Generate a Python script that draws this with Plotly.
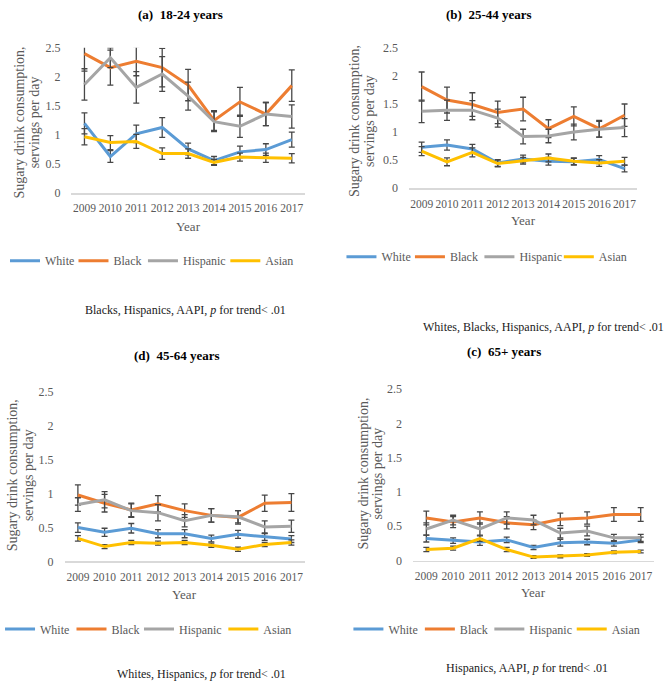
import plotly.graph_objects as go

W, H = 668, 688

years = ["2009", "2010", "2011", "2012", "2013", "2014", "2015", "2016", "2017"]
groups = ["White", "Black", "Hispanic", "Asian"]
colors = {"White": "#5B9BD5", "Black": "#ED7D31", "Hispanic": "#A5A5A5", "Asian": "#FFC000"}

# Panel (a) 18-24 years
a_white = [1.20, 0.63, 1.02, 1.13, 0.76, 0.56, 0.71, 0.75, 0.92]
a_black = [2.40, 2.16, 2.27, 2.16, 1.86, 1.25, 1.57, 1.36, 1.85]
a_hisp = [1.87, 2.33, 1.82, 2.05, 1.67, 1.23, 1.15, 1.36, 1.32]
a_asian = [0.97, 0.87, 0.89, 0.68, 0.68, 0.53, 0.62, 0.61, 0.60]
a_white_e = [0.18, 0.10, 0.15, 0.17, 0.10, 0.07, 0.10, 0.10, 0.13]
a_black_e = [0.30, 0.30, 0.25, 0.33, 0.27, 0.17, 0.25, 0.20, 0.27]
a_hisp_e = [0.27, 0.17, 0.27, 0.30, 0.24, 0.17, 0.19, 0.20, 0.20]
a_asian_e = [0.14, 0.12, 0.12, 0.10, 0.08, 0.05, 0.07, 0.08, 0.08]

# Panel (b) 25-44 years
b_white = [0.73, 0.77, 0.70, 0.45, 0.52, 0.48, 0.47, 0.51, 0.35]
b_black = [1.81, 1.57, 1.49, 1.35, 1.41, 1.06, 1.28, 1.06, 1.30]
b_hisp = [1.37, 1.39, 1.39, 1.25, 0.92, 0.93, 1.00, 1.05, 1.08]
b_asian = [0.66, 0.47, 0.64, 0.44, 0.49, 0.54, 0.48, 0.45, 0.48]
b_white_e = [0.09, 0.09, 0.08, 0.06, 0.07, 0.07, 0.06, 0.07, 0.06]
b_black_e = [0.26, 0.23, 0.21, 0.20, 0.21, 0.16, 0.17, 0.15, 0.20]
b_hisp_e = [0.20, 0.18, 0.17, 0.16, 0.13, 0.12, 0.14, 0.14, 0.16]
b_asian_e = [0.08, 0.07, 0.08, 0.06, 0.06, 0.07, 0.06, 0.06, 0.07]

# Panel (d) 45-64 years
d_white = [0.50, 0.43, 0.49, 0.41, 0.41, 0.34, 0.40, 0.36, 0.33]
d_black = [0.98, 0.86, 0.76, 0.85, 0.75, 0.68, 0.65, 0.86, 0.87]
d_hisp = [0.84, 0.91, 0.75, 0.72, 0.60, 0.68, 0.66, 0.51, 0.52]
d_asian = [0.34, 0.22, 0.28, 0.27, 0.28, 0.24, 0.18, 0.25, 0.28]
d_white_e = [0.07, 0.06, 0.07, 0.06, 0.06, 0.05, 0.06, 0.05, 0.05]
d_black_e = [0.15, 0.13, 0.10, 0.12, 0.10, 0.10, 0.10, 0.12, 0.13]
d_hisp_e = [0.10, 0.12, 0.10, 0.12, 0.09, 0.10, 0.09, 0.09, 0.09]
d_asian_e = [0.04, 0.03, 0.03, 0.03, 0.03, 0.03, 0.03, 0.03, 0.04]

# Panel (c) 65+ years
c_white = [0.32, 0.29, 0.27, 0.30, 0.19, 0.26, 0.27, 0.25, 0.30]
c_black = [0.62, 0.56, 0.62, 0.55, 0.52, 0.60, 0.62, 0.67, 0.67]
c_hisp = [0.46, 0.59, 0.46, 0.62, 0.59, 0.40, 0.43, 0.33, 0.33]
c_asian = [0.16, 0.18, 0.32, 0.16, 0.05, 0.06, 0.08, 0.12, 0.13]
c_white_e = [0.05, 0.04, 0.05, 0.04, 0.03, 0.05, 0.04, 0.04, 0.04]
c_black_e = [0.10, 0.08, 0.09, 0.09, 0.07, 0.09, 0.09, 0.10, 0.10]
c_hisp_e = [0.09, 0.07, 0.09, 0.09, 0.07, 0.07, 0.07, 0.05, 0.05]
c_asian_e = [0.03, 0.03, 0.04, 0.03, 0.02, 0.02, 0.02, 0.02, 0.02]

panels = [
    dict(title="<b>(a)  18-24 years</b>", note="Blacks, Hispanics, AAPI, <i>p</i> for trend< .01",
         vals=[a_white, a_black, a_hisp, a_asian], errs=[a_white_e, a_black_e, a_hisp_e, a_asian_e],
         px=(67, 302), py=(41.7, 190), tx=177, ty=8, ylab=(15, 30), yty=118,
         yearY=224, legXs=(13, 82, 152, 235), legY=259, noteX=182, noteY=309),
    dict(title="<b>(b)  25-44 years</b>", note="Whites, Blacks, Hispanics, AAPI, <i>p</i> for trend< .01",
         vals=[b_white, b_black, b_hisp, b_asian], errs=[b_white_e, b_black_e, b_hisp_e, b_asian_e],
         px=(407, 637), py=(41.7, 185), tx=488, ty=8, ylab=(352, 367), yty=116,
         yearY=218, legXs=(352, 421, 491, 571), legY=255, noteX=543, noteY=327),
    dict(title="<b>(d)  45-64 years</b>", note="Whites, Hispanics, <i>p</i> for trend< .01",
         vals=[d_white, d_black, d_hisp, d_asian], errs=[d_white_e, d_black_e, d_hisp_e, d_asian_e],
         px=(60, 302), py=(393, 566), tx=173, ty=356, ylab=(7, 23), yty=478,
         yearY=600, legXs=(8, 80, 148, 233), legY=635, noteX=198, noteY=681),
    dict(title="<b>(c)  65+ years</b>", note="Hispanics, AAPI, <i>p</i> for trend< .01",
         vals=[c_white, c_black, c_hisp, c_asian], errs=[c_white_e, c_black_e, c_hisp_e, c_asian_e],
         px=(411, 654), py=(390, 565), tx=503, ty=352, ylab=(361, 375), yty=476,
         yearY=598, legXs=(359, 431, 501, 584), legY=635, noteX=526, noteY=675),
]

FONT = "Liberation Serif"
GREY = "#595959"
LEG_LINE_OFFSET = 13  # distance from legend box left to its line sample


def fx(p):
    return p / W


def fy(p):
    return 1 - p / H


fig = go.Figure()
layout = dict(width=W, height=H, margin=dict(l=0, r=0, t=0, b=0),
              paper_bgcolor="white", plot_bgcolor="white",
              font=dict(family=FONT, color=GREY), annotations=[])

leg_idx = 0
for i, p in enumerate(panels):
    k = "" if i == 0 else str(i + 1)
    for j, (g, v, e) in enumerate(zip(groups, p["vals"], p["errs"])):
        leg_idx += 1
        legname = "legend" if leg_idx == 1 else f"legend{leg_idx}"
        fig.add_trace(go.Scatter(
            x=years, y=v, mode="lines", name=g,
            line=dict(color=colors[g], width=3),
            error_y=dict(type="data", array=e, visible=True, color="#474747", thickness=1.3, width=3),
            xaxis="x" + k, yaxis="y" + k, legend=legname, showlegend=True))
        layout[legname] = dict(orientation="h", x=fx(p["legXs"][j] - LEG_LINE_OFFSET), y=fy(p["legY"]),
                               xanchor="left", yanchor="middle", bgcolor="rgba(0,0,0,0)",
                               font=dict(family=FONT, size=12, color=GREY),
                               itemclick=False, itemdoubleclick=False)
    layout["xaxis" + k] = dict(domain=[fx(p["px"][0]), fx(p["px"][1])], anchor="y" + k,
                               type="category", range=[-0.5, 8.5], showgrid=False,
                               showline=True, linecolor="#D9D9D9", linewidth=1.5,
                               ticks="", tickangle=0,
                               tickfont=dict(family=FONT, size=11.5, color=GREY),
                               ticklabelstandoff=4, fixedrange=True)
    layout["yaxis" + k] = dict(domain=[fy(p["py"][1]), fy(p["py"][0])], anchor="x" + k,
                               range=[0, 2.5], dtick=0.5, showgrid=False, zeroline=False,
                               showline=False, ticks="",
                               tickfont=dict(family=FONT, size=12, color=GREY),
                               ticklabelstandoff=10, fixedrange=True)
    ann = layout["annotations"]
    ann.append(dict(text=p["title"], x=fx(p["tx"]), y=fy(p["ty"]), xref="paper", yref="paper",
                    showarrow=False, xanchor="center", yanchor="middle",
                    font=dict(family=FONT, size=13, color="#000000")))
    ann.append(dict(text="Sugary drink consumption,", x=fx(p["ylab"][0]), y=fy(p["yty"]),
                    xref="paper", yref="paper", showarrow=False, textangle=-90,
                    xanchor="center", yanchor="middle",
                    font=dict(family=FONT, size=14, color=GREY)))
    ann.append(dict(text="servings per day", x=fx(p["ylab"][1]), y=fy(p["yty"]),
                    xref="paper", yref="paper", showarrow=False, textangle=-90,
                    xanchor="center", yanchor="middle",
                    font=dict(family=FONT, size=14, color=GREY)))
    ann.append(dict(text="Year", x=fx((p["px"][0] + p["px"][1]) / 2), y=fy(p["yearY"]),
                    xref="paper", yref="paper", showarrow=False, xanchor="center", yanchor="middle",
                    font=dict(family=FONT, size=13, color=GREY)))
    ann.append(dict(text=p["note"], x=fx(p["noteX"]), y=fy(p["noteY"]),
                    xref="paper", yref="paper", showarrow=False, xanchor="center", yanchor="middle",
                    font=dict(family=FONT, size=12, color="#1a1a1a")))

fig.update_layout(**layout)
fig.write_html("out.html", config={"displayModeBar": False, "staticPlot": True},
               post_script="document.body.style.margin='0';document.body.style.overflow='hidden';")
